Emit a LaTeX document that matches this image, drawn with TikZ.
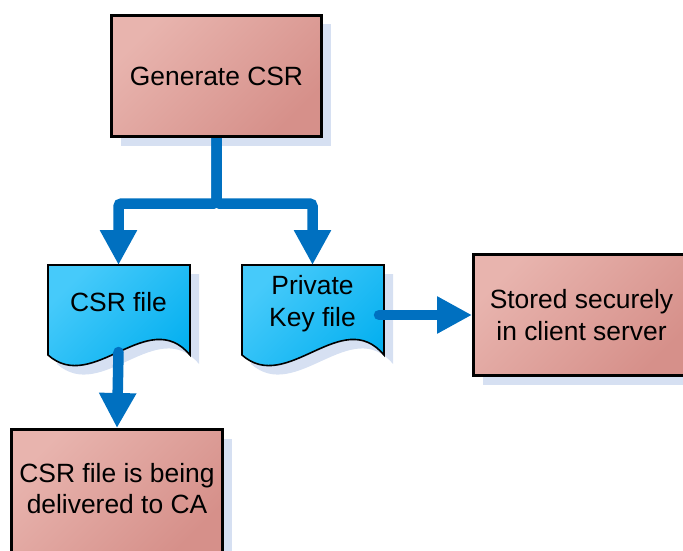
\documentclass[tikz,border=0pt]{standalone}
\usepackage{fontspec}
\setmainfont{Liberation Sans}
\usetikzlibrary{arrows.meta,shadows}

\definecolor{boxlight}{RGB}{232,180,174}
\definecolor{boxdark}{RGB}{214,144,138}
\definecolor{doclight}{RGB}{70,202,250}
\definecolor{docdark}{RGB}{0,174,239}
\definecolor{shadowblue}{RGB}{214,224,242}
\definecolor{linkblue}{RGB}{0,112,192}

\tikzset{
  every node/.style={font=\fontsize{26.4}{31.7}\selectfont},
  procbox/.style={draw=black, line width=3pt,
    top color=boxlight, bottom color=boxdark, shading angle=45,
    inner sep=0pt, align=center,
    general shadow={fill=shadowblue, shadow xshift=9pt, shadow yshift=-9pt}},
  docline/.style={draw=black, line width=1.6pt,
    top color=doclight, bottom color=docdark, shading angle=45},
  doctext/.style={align=center, inner sep=0pt},
  link/.style={draw=linkblue, line width=10.5pt,
    -{Triangle[width=35pt,length=35pt]}},
}

% document sheet with wavy lower edge; #1 = left x, #2 = top y (downwards)
\newcommand\docsheet[2]{%
  \fill[shadowblue, shift={(#1+9,-#2-9)}]
    (0,0) -- (142,0) -- (142,-90) .. controls (100,-40) and (45,-130) .. (0,-90) -- cycle;
  \path[docline, shift={(#1,-#2)}]
    (0,0) -- (142,0) -- (142,-90) .. controls (100,-40) and (45,-130) .. (0,-90) -- cycle;
}

\begin{document}
\begin{tikzpicture}[x=1pt,y=1pt]
\useasboundingbox (0,0) rectangle (683,-551);
\clip (0,0) rectangle (683,-551);

% process boxes
\node[procbox, minimum width=210pt, minimum height=121pt] (gen) at (216.5,-76) {Generate CSR};
\node[procbox, minimum width=216pt, minimum height=121pt] (store) at (581.5,-315)
  {Stored securely\\in client server};
\node[procbox, minimum width=211pt, minimum height=125pt] (deliver) at (117,-492) {};
\node[doctext] (delivertxt) at (117,-488.5) {CSR file is being\\delivered to CA};

% document sheets
\docsheet{48}{265}
\docsheet{242}{265}
\node[doctext] (csrtxt) at (118.5,-302.5) {CSR file};
\node[doctext] (keytxt) at (312.5,-304) {Private\\Key file};

\coordinate (csrtop) at (118.5,-265);
\coordinate (keytop) at (312.5,-265);
\coordinate (csrout) at (118.5,-352);
\coordinate (keyout) at (379,-315);

% connectors
\draw[link, rounded corners=3pt] (gen.south) -- ++(0,-65.5) -| (csrtop);
\draw[link, rounded corners=3pt] (gen.south) -- ++(0,-65.5) -| (keytop);
\draw[link, line cap=round] (csrout) -- (deliver.north);
\draw[link, line cap=round] (keyout) -- (store.west);
\end{tikzpicture}
\end{document}
